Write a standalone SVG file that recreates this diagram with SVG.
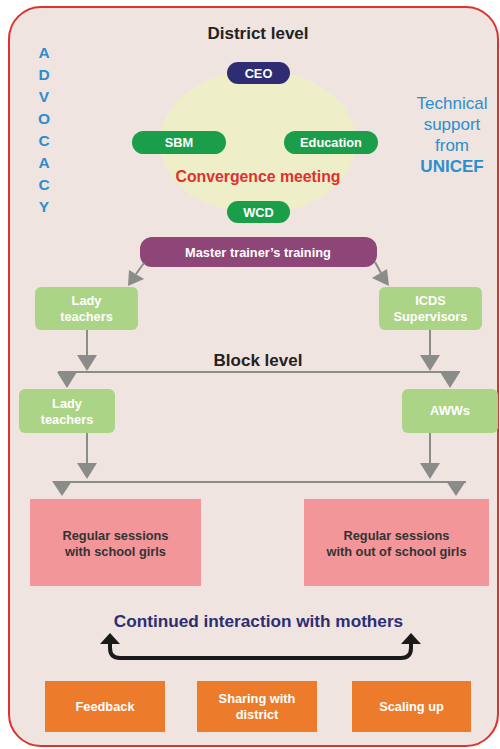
<svg xmlns="http://www.w3.org/2000/svg" width="500" height="749" viewBox="0 0 500 749">
<style>
text{font-family:"Liberation Sans",Arial,sans-serif;font-weight:bold;text-anchor:middle}
.w{fill:#ffffff;font-size:12.8px}
.pill{fill:#1a9e4a}
.lg{fill:#acd486}
.pk{fill:#f2969a}
.or{fill:#ec7c2c}
.gl{stroke:#8a8c8a;stroke-width:2;fill:none}
.gh{fill:#8a8c8a}
.adv{fill:#2a8fd0;font-size:15.5px}
.tech{fill:#2a8fd0;font-size:17px;font-weight:normal}
.techb{fill:#2a8fd0;font-size:17px;font-weight:bold}
.dk{fill:#333333;font-size:12.8px}
.hd{fill:#222222;font-size:17px}
</style>
<rect x="9" y="7" width="489" height="739" rx="32" fill="#f0e4e0" stroke="#e03030" stroke-width="2"/>
<text class="hd" x="258" y="39">District level</text>
<g id="advocacy">
<text class="adv" x="44" y="57.5">A</text>
<text class="adv" x="44" y="79.5">D</text>
<text class="adv" x="44" y="101.5">V</text>
<text class="adv" x="44" y="123.5">O</text>
<text class="adv" x="44" y="145.5">C</text>
<text class="adv" x="44" y="167.5">A</text>
<text class="adv" x="44" y="189.5">C</text>
<text class="adv" x="44" y="211.5">Y</text>
</g>
<g id="technical">
<text class="tech" x="452" y="109">Technical</text>
<text class="tech" x="452" y="130">support</text>
<text class="tech" x="452" y="151">from</text>
<text class="techb" x="452" y="172">UNICEF</text>
</g>
<g id="convergence">
<ellipse cx="258" cy="142" rx="98" ry="72" fill="#eeeec8"/>
<text x="258" y="181.5" font-size="15.8" fill="#e03030">Convergence meeting</text>
</g>
<g id="ceo"><rect x="227" y="62" width="63" height="22" rx="11" fill="#2e2d74"/><text class="w" x="258.5" y="77.5">CEO</text></g>
<g id="sbm"><rect class="pill" x="132" y="131" width="94" height="23" rx="11.5"/><text class="w" x="179" y="147">SBM</text></g>
<g id="education"><rect class="pill" x="284" y="131" width="94" height="23" rx="11.5"/><text class="w" x="331" y="147">Education</text></g>
<g id="wcd"><rect class="pill" x="227" y="201" width="63" height="22" rx="11" /><text class="w" x="258.5" y="216.5">WCD</text></g>
<g id="master"><rect x="140" y="237" width="237" height="30" rx="12" fill="#8e4578"/><text class="w" x="258" y="256.5">Master trainer’s training</text></g>
<g id="connectors">
<line class="gl" x1="144" y1="263" x2="136" y2="274"/>
<polygon class="gh" points="128,286 129,270 144,279"/>
<line class="gl" x1="375" y1="262" x2="381" y2="273"/>
<polygon class="gh" points="389,286 372,278 387,269"/>
<line class="gl" x1="87" y1="330" x2="87" y2="356"/>
<polygon class="gh" points="77,355 97,355 87,371"/>
<line class="gl" x1="430" y1="330" x2="430" y2="356"/>
<polygon class="gh" points="420,355 440,355 430,371"/>
<line class="gl" x1="58" y1="372" x2="460" y2="372"/>
<polygon class="gh" points="57,372 77,372 67,388"/>
<polygon class="gh" points="440,372 460,372 450,388"/>
<line class="gl" x1="87" y1="433" x2="87" y2="464"/>
<polygon class="gh" points="77,463 97,463 87,479"/>
<line class="gl" x1="430" y1="433" x2="430" y2="464"/>
<polygon class="gh" points="420,463 440,463 430,479"/>
<line class="gl" x1="53" y1="482" x2="466" y2="482"/>
<polygon class="gh" points="52,481 72,481 62,496"/>
<polygon class="gh" points="446,481 466,481 456,496"/>
<path d="M110,642 V648 Q110,658 120,658 H401 Q411,658 411,648 V642" fill="none" stroke="#1a1a1a" stroke-width="4"/>
<polygon points="110,633 100,644 120,644" fill="#1a1a1a"/>
<polygon points="411,633 401,644 421,644" fill="#1a1a1a"/>
</g>
<g id="lady1"><rect class="lg" x="35" y="287" width="103" height="43" rx="6"/><text class="w" x="86.5" y="305">Lady</text><text class="w" x="86.5" y="321">teachers</text></g>
<g id="icds"><rect class="lg" x="379" y="287" width="103" height="43" rx="6"/><text class="w" x="430.5" y="305">ICDS</text><text class="w" x="430.5" y="321">Supervisors</text></g>
<text class="hd" x="258" y="366">Block level</text>
<g id="lady2"><rect class="lg" x="19" y="389" width="96" height="44" rx="6"/><text class="w" x="67" y="408">Lady</text><text class="w" x="67" y="424">teachers</text></g>
<g id="awws"><rect class="lg" x="402" y="389" width="96" height="44" rx="6"/><text class="w" x="450" y="415">AWWs</text></g>
<g id="school"><rect class="pk" x="30" y="499" width="171" height="87"/><text class="dk" x="115.5" y="539.5">Regular sessions</text><text class="dk" x="115.5" y="555.5">with school girls</text></g>
<g id="outschool"><rect class="pk" x="304" y="499" width="185" height="87"/><text class="dk" x="396.5" y="539.5">Regular sessions</text><text class="dk" x="396.5" y="555.5">with out of school girls</text></g>
<text x="258.5" y="627" font-size="17.2" fill="#2e2d74">Continued interaction with mothers</text>
<g id="feedback"><rect class="or" x="45" y="681" width="120" height="51"/><text class="w" x="105" y="711">Feedback</text></g>
<g id="sharing"><rect class="or" x="197" y="681" width="120" height="51"/><text class="w" x="257" y="703">Sharing with</text><text class="w" x="257" y="719">district</text></g>
<g id="scaling"><rect class="or" x="352" y="681" width="119" height="51"/><text class="w" x="411.5" y="711">Scaling up</text></g>
</svg>
